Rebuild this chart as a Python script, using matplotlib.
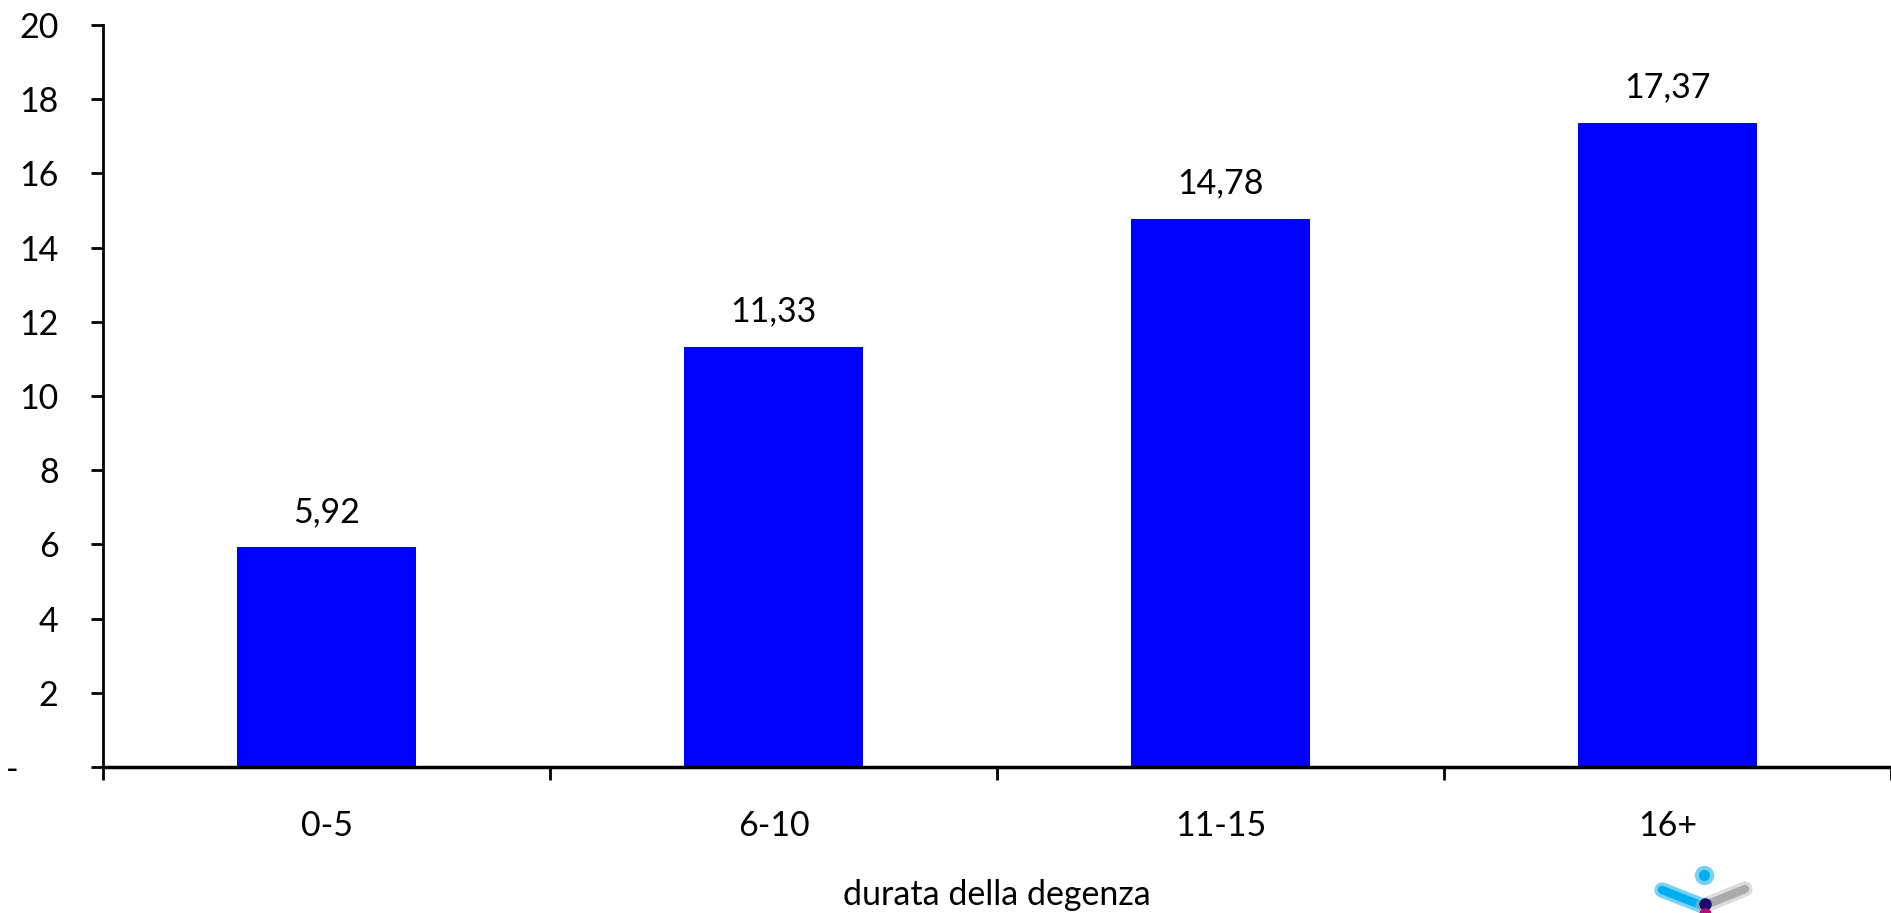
import matplotlib.pyplot as plt
from matplotlib.transforms import ScaledTranslation

plt.rcParams['font.family'] = ['Lato', 'DejaVu Sans']

# degenza media per classe di durata
classi = ['0-5', '6-10', '11-15', '16+']
valori = [5.92, 11.33, 14.78, 17.37]
yticks = [0, 2, 4, 6, 8, 10, 12, 14, 16, 18, 20]
ytick_labels = ['-'] + [str(v) for v in yticks[1:]]

fig = plt.figure(figsize=(18.91, 9.13), dpi=100)
ax = fig.add_axes([0.0545, 0.160, 0.9455, 0.8126])

x = range(len(classi))
bars = ax.bar(x, valori, width=0.4, color='#0000FF', zorder=2)

for b, v in zip(bars, valori):
    ax.annotate(f'{v:.2f}'.replace('.', ','),
                (b.get_x() + b.get_width() / 2, v),
                xytext=(0, 14), textcoords='offset points',
                ha='center', va='bottom', fontsize=24.5)

ax.set_xlim(-0.5, len(classi) - 0.5)
ax.set_ylim(0, 20)
ax.set_yticks(yticks)
ax.set_yticklabels(ytick_labels)
ax.set_xticks(x)
ax.set_xticklabels(classi)

# tacche dell'asse x tra le categorie
ax.set_xticks([i + 0.5 for i in range(-1, len(classi))], minor=True)
ax.tick_params(axis='x', which='major', length=0, pad=31, labelsize=24.5)
ax.tick_params(axis='x', which='minor', length=9, width=2, direction='out')
ax.tick_params(axis='y', length=9, width=2, pad=23, labelsize=24.5)

# il trattino dello zero sta più a sinistra
lbl0 = ax.get_yticklabels()[0]
lbl0.set_transform(lbl0.get_transform() + ScaledTranslation(-0.40, 0, fig.dpi_scale_trans))

for s in ['top', 'right']:
    ax.spines[s].set_visible(False)
ax.spines['left'].set_linewidth(2)
ax.spines['bottom'].set_linewidth(2.5)

ax.set_xlabel('durata della degenza', fontsize=24.5, labelpad=27)

# logo in basso a destra (coordinate in pixel)
logo = fig.add_axes([0, 0, 1, 1], zorder=5)
logo.set_xlim(0, 1891)
logo.set_ylim(913, 0)
logo.axis('off')
logo.patch.set_alpha(0)
logo.plot([1662, 1703], [890, 906], color='#00AEEF', lw=11, alpha=0.55,
          solid_capstyle='round')
logo.plot([1662, 1703], [890, 906], color='#00AEEF', lw=6,
          solid_capstyle='round')
logo.plot([1703, 1745], [906, 889], color='#BBBBBB', lw=11, alpha=0.5,
          solid_capstyle='round')
logo.plot([1703, 1745], [906, 889], color='#AAAAAA', lw=6,
          solid_capstyle='round')
logo.plot([1704], [875], 'o', color='#00AEEF', ms=14, alpha=0.55, mec='none')
logo.plot([1704], [875], 'o', color='#00AEEF', ms=8, mec='none')
logo.plot([1705], [904], 'o', color='#1A0A6B', ms=9, mec='none')
logo.plot([1705], [914], 'o', color='#B0107A', ms=9, mec='none')

fig.savefig('out.png', dpi=100)
